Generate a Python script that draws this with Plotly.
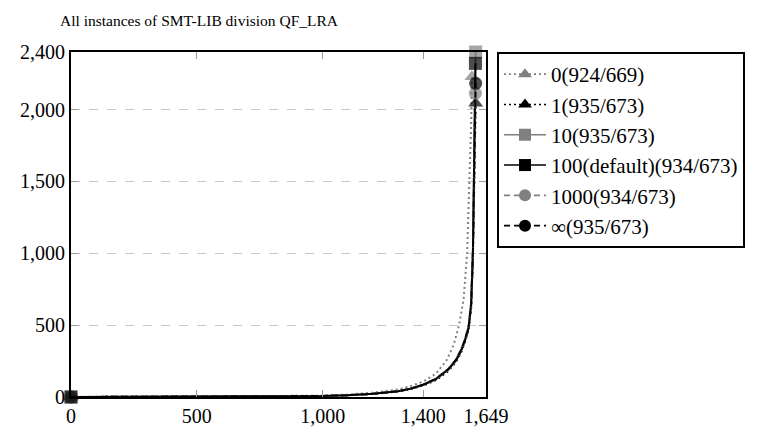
import plotly.graph_objects as go

TITLE = "All instances of SMT-LIB division QF_LRA"

# cactus-plot samples: instance index (x) vs cumulative runtime (y)
X_COMMON = [0, 250, 500, 750, 1000, 1100, 1200, 1300, 1350, 1400, 1450, 1500,
            1530, 1550, 1565, 1580, 1590, 1597, 1601, 1604]

X_0 = [0, 250, 500, 750, 1000, 1100, 1200, 1300, 1350, 1400, 1450, 1493,
       1520, 1542, 1560, 1574, 1583, 1590, 1593]
Y_0 = [0, 1, 2, 4, 9, 17, 30, 52, 76, 108, 162, 257, 360, 500, 680, 1000, 1500, 1900, 2228]

X_1 = X_COMMON + [1608]
Y_1 = [0, 1, 2, 3, 7, 12, 21, 38, 56, 80, 117, 182, 245, 310, 380, 470, 620, 960, 1420, 1800, 2043]

X_10 = X_COMMON + [1608]
Y_10 = [0, 1, 2, 3, 7, 13, 23, 41, 60, 88, 128, 197, 262, 330, 400, 495, 660, 1020, 1530, 1980, 2400]

X_100 = X_COMMON + [1607]
Y_100 = [0, 1, 2, 3, 7, 12, 22, 40, 58, 85, 124, 192, 255, 320, 390, 480, 640, 1000, 1500, 1950, 2321]

X_1000 = X_COMMON + [1607]
Y_1000 = [0, 1, 2, 3, 7, 12, 22, 39, 57, 84, 122, 190, 252, 318, 388, 478, 635, 990, 1480, 1900, 2113]

X_INF = X_COMMON + [1608]
Y_INF = [0, 1, 2, 3, 7, 12, 22, 40, 58, 86, 126, 194, 258, 325, 395, 485, 645, 1005, 1510, 1930, 2182]

NAMES = ["0(924/669)", "1(935/673)", "10(935/673)", "100(default)(934/673)",
         "1000(934/673)", "∞(935/673)"]

X_TICKS = [0, 500, 1000, 1400, 1649]
X_TICK_TEXT = ["0", "500", "1,000", "1,400", "1,649"]
Y_TICKS = [0, 500, 1000, 1500, 2000, 2400]
Y_TICK_TEXT = ["0", "500", "1,000", "1,500", "2,000", "2,400"]

GRAY = "#808080"
SERIF = "Liberation Serif, Times New Roman, serif"
STYLES = [
    (GRAY, "2px,3px", "triangle-up"),
    ("black", "2px,3px", "triangle-up"),
    (GRAY, "solid", "square"),
    ("black", "solid", "square"),
    (GRAY, "6px,4px", "circle"),
    ("black", "6px,4px", "circle"),
]

SERIES = [(X_0, Y_0), (X_1, Y_1), (X_10, Y_10), (X_100, Y_100), (X_1000, Y_1000), (X_INF, Y_INF)]

# page body keeps its default 8px margin, so the figure is a bit smaller than the window
W, H = 771, 421

fig = go.Figure()
for (xs, ys), name, (color, dash, symbol) in zip(SERIES, NAMES, STYLES):
    # marks only on the first and last sample
    sizes = [13] + [0] * (len(xs) - 2) + [13]
    fig.add_trace(
        go.Scatter(
            x=xs,
            y=ys,
            name=name,
            legendgroup=name,
            showlegend=False,
            mode="lines+markers",
            line=dict(color=color, width=2, dash=dash),
            marker=dict(symbol=symbol, size=sizes, color=color, line=dict(width=0)),
            cliponaxis=False,
        )
    )
    # legend entry
    fig.add_trace(
        go.Scatter(
            x=[None],
            y=[None],
            name=name,
            legendgroup=name,
            mode="lines+markers",
            line=dict(color=color, width=1.6, dash=dash),
            marker=dict(symbol=symbol, size=12, color=color, line=dict(width=0)),
        )
    )

axis_common = dict(
    showline=True,
    linecolor="black",
    linewidth=2,
    mirror="ticks",
    ticks="inside",
    ticklen=7,
    tickwidth=1,
    tickcolor="#999999",
    zeroline=False,
    automargin=False,
    tickfont=dict(family=SERIF, size=20, color="black"),
)

fig.update_xaxes(
    range=[0, 1649],
    tickvals=X_TICKS,
    ticktext=X_TICK_TEXT,
    showgrid=False,
    **axis_common,
)
fig.update_yaxes(
    range=[0, 2400],
    tickvals=Y_TICKS,
    ticktext=Y_TICK_TEXT,
    showgrid=True,
    gridcolor="#c8c8c8",
    griddash="dash",
    gridwidth=1,
    **axis_common,
)

fig.update_layout(
    width=W,
    height=H,
    margin=dict(l=63, r=293, t=44, b=32, autoexpand=False),
    plot_bgcolor="white",
    paper_bgcolor="white",
    title=dict(
        text=TITLE,
        x=52 / W,
        xanchor="left",
        y=1 - 13 / H,
        yanchor="middle",
        font=dict(family=SERIF, size=15.5, color="black"),
    ),
    legend=dict(
        x=1.0265,
        y=1.0,
        xanchor="left",
        yanchor="top",
        bordercolor="black",
        borderwidth=2,
        itemwidth=42,
        font=dict(family=SERIF, size=21, color="black"),
        tracegroupgap=0,
    ),
    showlegend=True,
)

fig.write_html("out.html")
